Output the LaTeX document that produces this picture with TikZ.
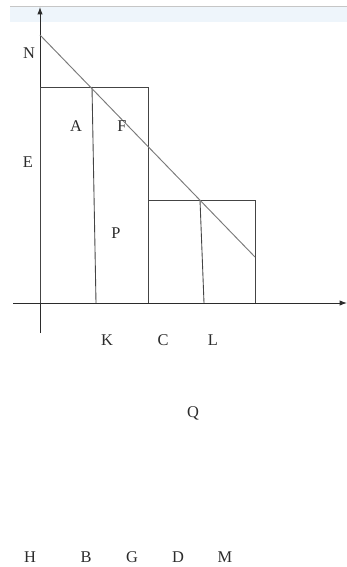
\documentclass[tikz,border=0pt]{standalone}
\usepackage{fontspec}
\setmainfont{Liberation Serif}
\usetikzlibrary{arrows.meta, positioning, calc}
\usepackage{xcolor}
\definecolor{axisgrey}{HTML}{2b2b2b}
\definecolor{linegrey}{HTML}{444444}
\definecolor{slopegrey}{HTML}{7a7a7a}
\definecolor{bandblue}{HTML}{eef5fb}
\tikzset{
  axisarrow/.style={->, draw=axisgrey, line width=0.8pt,
                    >={Latex[length=2.2mm,width=1.6mm]}},
  barline/.style={draw=linegrey, line width=0.75pt},
  slopeline/.style={draw=slopegrey, line width=0.8pt},
  ptlabel/.style={font=\fontsize{14}{16}\selectfont, text=axisgrey, inner sep=0pt},
}

\begin{document}
\begin{tikzpicture}[x=0.03cm, y=-0.03cm]
  \useasboundingbox (0,0) rectangle (347,567);

  % --- header band ---
  \fill[bandblue] (10,6) rectangle (347,22);
  \draw[gray!45, line width=0.4pt] (10,6) -- (347,6);

  % --- axes ---
  \coordinate (ybot) at (40,333);
  \coordinate (ytop) at (40,7);
  \coordinate (xleft) at (13,303);
  \coordinate (xright) at (347,303);
  \draw[axisarrow] (ybot) -- (ytop);
  \draw[axisarrow] (xleft) -- (xright);

  % --- tall bar ---
  \coordinate (tallbl) at (40,303);
  \coordinate (talltl) at (40,87);
  \coordinate (talltr) at (148,87);
  \coordinate (tallbr) at (148,303);
  \draw[barline] (tallbl) -- (talltl) -- (talltr) -- (tallbr);

  % --- short bar ---
  \coordinate (shorttl) at (148,200);
  \coordinate (shorttr) at (255,200);
  \coordinate (shortbr) at (255,303);
  \draw[barline] (shorttl) -- (shorttr) -- (shortbr);

  % --- split lines at K and L ---
  \coordinate (ktop) at (92,87);
  \coordinate (kbot) at (96,303);
  \draw[barline] (ktop) -- (kbot);
  \coordinate (ltop) at (200,200);
  \coordinate (lbot) at (204,303);
  \draw[barline] (ltop) -- (lbot);

  % --- sloping line from N ---
  \coordinate (nstart) at (40,35);
  \coordinate (nend) at (255,257);
  \draw[slopeline] (nstart) -- (nend);

  % --- labels in the plot ---
  \node[ptlabel] (labN) at (29,53) {N};
  \node[ptlabel] (labA) at (76,126) {A};
  \node[ptlabel] (labF) at (122,126) {F};
  \node[ptlabel] (labE) at (28,162) {E};
  \node[ptlabel] (labP) at (116,233) {P};

  % --- labels under the axis ---
  \node[ptlabel] (labK) at (107,340) {K};
  \node[ptlabel] (labC) at (163,340) {C};
  \node[ptlabel] (labL) at (213,340) {L};
  \node[ptlabel] (labQ) at (193,413) {Q};

  % --- bottom row ---
  \node[ptlabel] (labH) at (30,557) {H};
  \node[ptlabel] (labB) at (86,557) {B};
  \node[ptlabel] (labG) at (132,557) {G};
  \node[ptlabel] (labD) at (178,557) {D};
  \node[ptlabel] (labM) at (225,557) {M};

\end{tikzpicture}
\end{document}
